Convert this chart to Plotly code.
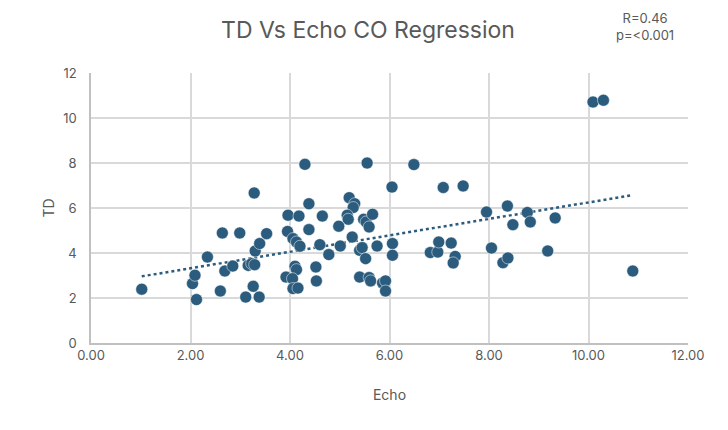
import numpy as np
import plotly.graph_objects as go

echo = [1.02, 2.04, 2.09, 2.12, 2.34, 2.60, 2.64, 2.99, 2.69, 2.85,
        3.16, 3.23, 3.29, 3.30, 3.39, 3.53, 3.26, 3.11, 3.38, 3.28,
        4.30, 5.55, 6.05, 4.38, 5.19, 5.30, 5.27, 3.96, 4.18, 4.65,
        5.15, 5.17, 5.48, 5.53, 5.66, 5.59, 4.98, 4.38, 3.95, 4.06,
        4.13, 4.20, 4.60, 4.78, 5.01, 5.25, 5.40, 5.45, 5.52, 5.75,
        6.06, 6.06, 4.10, 4.13, 4.52, 4.53, 3.92, 4.05, 4.06, 4.16,
        5.40, 5.59, 5.62, 5.86, 5.92, 5.92, 10.09, 10.30, 10.89, 6.49,
        7.08, 7.48, 6.82, 6.97, 6.99, 7.24, 7.32, 7.28, 7.95, 8.05,
        8.37, 8.28, 8.38, 8.48, 8.77, 8.83, 9.18, 9.33]
td = [2.39, 2.64, 3.01, 1.93, 3.82, 2.31, 4.89, 4.89, 3.20, 3.42,
      3.45, 3.53, 3.48, 4.09, 4.42, 4.86, 2.52, 2.04, 2.04, 6.67,
      7.94, 8.00, 6.93, 6.19, 6.46, 6.19, 6.02, 5.68, 5.64, 5.64,
      5.68, 5.50, 5.50, 5.38, 5.72, 5.16, 5.19, 5.04, 4.96, 4.64,
      4.49, 4.30, 4.37, 3.93, 4.31, 4.71, 4.12, 4.24, 3.75, 4.31,
      4.42, 3.90, 3.41, 3.26, 3.38, 2.76, 2.93, 2.86, 2.42, 2.44,
      2.93, 2.91, 2.76, 2.67, 2.76, 2.31, 10.71, 10.79, 3.20, 7.93,
      6.91, 6.98, 4.02, 4.04, 4.49, 4.44, 3.85, 3.56, 5.82, 4.22,
      6.09, 3.57, 3.78, 5.26, 5.80, 5.38, 4.09, 5.56]

x_ticks = [0, 2, 4, 6, 8, 10, 12]
y_ticks = [0, 2, 4, 6, 8, 10, 12]

blue = "#2b5c7d"
grey = "#595959"

# linear trendline
slope, icept = np.polyfit(echo, td, 1)
fit_x = [min(echo), max(echo)]
fit_y = [icept + slope * v for v in fit_x]

fig = go.Figure()
fig.add_trace(go.Scatter(x=fit_x, y=fit_y, mode="lines",
                         line=dict(color=blue, width=2.5, dash="dot"),
                         hoverinfo="skip"))
fig.add_trace(go.Scatter(x=echo, y=td, mode="markers",
                         marker=dict(color=blue, size=12,
                                     line=dict(color="white", width=0.5))))

# page body has an 8px margin, so the figure is a bit smaller than the window
fig.update_layout(
    width=720, height=422,
    margin=dict(l=83, r=40, t=65, b=87, autoexpand=False),
    paper_bgcolor="white", plot_bgcolor="white",
    font=dict(family="Inter", color=grey, size=13),
    showlegend=False,
    title=dict(text="TD Vs Echo CO Regression", x=0.5, xanchor="center",
               y=0.948, yanchor="middle", font=dict(size=23, color=grey)),
)
fig.add_annotation(text="R=0.46<br>p=<0.001", xref="paper", yref="paper",
                   x=0.928, y=1.173, xanchor="center", yanchor="middle",
                   showarrow=False, font=dict(size=13, color=grey))
fig.update_xaxes(range=[0, 12], tickvals=x_ticks,
                 ticktext=["%.2f" % v for v in x_ticks],
                 showgrid=True, gridcolor="#d9d9d9", gridwidth=1.5,
                 zeroline=False, showline=True, linecolor="#c0c0c0",
                 linewidth=1.5, ticks="", automargin=False,
                 title=dict(text="Echo", font=dict(size=14, color=grey),
                            standoff=28))
fig.update_yaxes(range=[0, 12], tickvals=y_ticks,
                 showgrid=True, gridcolor="#d9d9d9", gridwidth=1.5,
                 zeroline=False, showline=True, linecolor="#c0c0c0",
                 linewidth=1.5, ticks="", automargin=False,
                 ticklabelstandoff=10,
                 title=dict(text="TD", font=dict(size=14, color=grey),
                            standoff=5))

fig.write_html("out.html")
